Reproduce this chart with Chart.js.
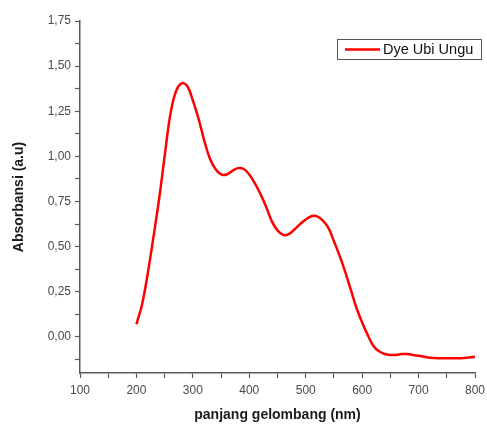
<!DOCTYPE html>
<html>
<head>
<meta charset="utf-8">
<script src="https://cdn.jsdelivr.net/npm/chart.js@4"></script>
<style>
  html, body { margin: 0; padding: 0; background: #fff; }
  #wrap { width: 487px; height: 425px; position: relative; }
</style>
</head>
<body>
<div id="wrap"><canvas id="c" width="487" height="425"></canvas></div>
<script>
// ---- data ----
const seriesLabel = 'Dye Ubi Ungu';
const wavelength = [200,210,220,230,240,250,260,270,280,290,300,310,320,330,340,350,360,370,380,390,400,410,420,430,440,450,460,470,480,490,500,510,520,530,540,550,560,570,580,590,600,610,620,630,640,650,660,670,680,690,700,720,740,760,780,800];
const absorbance = [0.07,0.18,0.35,0.55,0.76,1.00,1.23,1.36,1.405,1.39,1.31,1.21,1.09,0.99,0.93,0.90,0.90,0.92,0.935,0.93,0.90,0.85,0.79,0.72,0.64,0.59,0.565,0.57,0.595,0.625,0.65,0.668,0.668,0.645,0.605,0.53,0.45,0.36,0.26,0.16,0.08,0.01,-0.05,-0.08,-0.095,-0.10,-0.10,-0.095,-0.095,-0.10,-0.105,-0.115,-0.118,-0.118,-0.117,-0.11];
const xMajorTicks = [100,200,300,400,500,600,700,800];
const xMinorTicks = [150,250,350,450,550,650,750];
const yMajorTicks = [0,0.25,0.5,0.75,1.0,1.25,1.5,1.75];
const yMinorTicks = [-0.125,0.125,0.375,0.625,0.875,1.125,1.375,1.625];
const xTitle = 'panjang gelombang (nm)';
const yTitle = 'Absorbansi (a.u)';

const FONT = "'Liberation Sans', Arial, sans-serif";
const AXIS = '#5a5a5a';
const TICKTXT = '#4a4a4a';

const legendPlugin = {
  id: 'boxLegend',
  afterDraw(chart) {
    const ctx = chart.ctx;
    const ds = chart.data.datasets[0];
    const x0 = 337, y0 = 39, w = 144, h = 20;
    ctx.save();
    ctx.fillStyle = '#fff';
    ctx.fillRect(x0, y0, w, h);
    ctx.strokeStyle = '#555';
    ctx.lineWidth = 1;
    ctx.strokeRect(x0 + 0.5, y0 + 0.5, w, h);
    ctx.strokeStyle = ds.borderColor;
    ctx.lineWidth = 2.5;
    ctx.beginPath();
    ctx.moveTo(x0 + 8, y0 + h / 2 + 0.5);
    ctx.lineTo(x0 + 43, y0 + h / 2 + 0.5);
    ctx.stroke();
    ctx.fillStyle = '#111';
    ctx.font = '14.5px ' + FONT;
    ctx.textBaseline = 'middle';
    ctx.textAlign = 'left';
    ctx.fillText(ds.label, x0 + 46, y0 + h / 2 + 1);
    ctx.restore();
  }
};

const fmt = v => v.toFixed(2).replace('.', ',');

new Chart(document.getElementById('c'), {
  type: 'line',
  data: {
    datasets: [{
      label: seriesLabel,
      data: wavelength.map((x, i) => ({ x: x, y: absorbance[i] })),
      borderColor: '#ff0000',
      borderWidth: 2.5,
      pointRadius: 0,
      fill: false,
      tension: 0.4
    }]
  },
  options: {
    responsive: false,
    animation: false,
    events: [],
    layout: { padding: { left: 0, top: 21, right: 12, bottom: 0 } },
    plugins: { legend: { display: false }, tooltip: { enabled: false } },
    scales: {
      x: {
        type: 'linear',
        min: 100, max: 800,
        afterBuildTicks: s => { s.ticks = xMajorTicks.concat(xMinorTicks).sort((a,b)=>a-b).map(v => ({ value: v })); },
        afterFit: s => { s.height = 52; s.paddingLeft = 0; s.paddingRight = 0; },
        border: { display: true, color: AXIS, width: 1.5 },
        grid: { drawOnChartArea: false, color: AXIS, tickColor: AXIS, tickLength: 5, tickWidth: 1.2 },
        ticks: {
          autoSkip: false, maxRotation: 0, padding: 5,
          color: TICKTXT, font: { family: FONT, size: 12 },
          callback: v => xMajorTicks.includes(v) ? String(v) : ''
        },
        title: {
          display: true, text: xTitle, color: '#1a1a1a',
          font: { family: FONT, size: 14, weight: 'bold' },
          padding: { top: 0, bottom: 1 }
        }
      },
      y: {
        type: 'linear',
        min: -0.2, max: 1.75,
        afterBuildTicks: s => { s.ticks = yMinorTicks.concat(yMajorTicks).sort((a,b)=>a-b).map(v => ({ value: v })); },
        afterFit: s => { s.width = 80; s.paddingTop = 0; s.paddingBottom = 0; },
        border: { display: true, color: AXIS, width: 1.5 },
        grid: { drawOnChartArea: false, color: AXIS, tickColor: AXIS, tickLength: 5, tickWidth: 1.2 },
        ticks: {
          autoSkip: false, padding: 4,
          color: TICKTXT, font: { family: FONT, size: 12 },
          callback: v => yMajorTicks.some(t => Math.abs(t - v) < 1e-9) ? fmt(v) : ''
        },
        title: {
          display: true, text: yTitle, color: '#1a1a1a',
          font: { family: FONT, size: 14, weight: 'bold' },
          padding: { top: 11, bottom: 0 }
        }
      }
    }
  },
  plugins: [legendPlugin]
});
</script>
</body>
</html>
